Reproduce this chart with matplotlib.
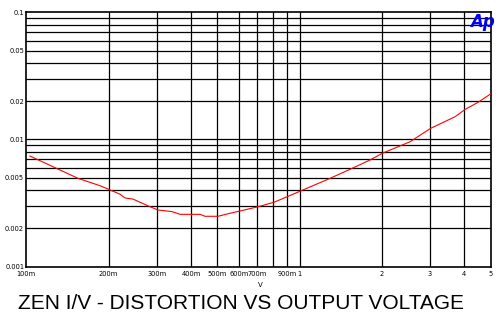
import matplotlib
matplotlib.use('Agg')
import matplotlib.pyplot as plt
import numpy as np

# output voltage (V) and THD+N ratio
volts = [0.1031, 0.1328, 0.1546, 0.1861, 0.2001, 0.2203, 0.2297, 0.2457, 0.2836,
         0.3033, 0.3413, 0.3650, 0.4321, 0.4507, 0.5028, 0.5563, 0.6049, 0.7045,
         0.806, 0.9224, 1.009, 1.292, 1.529, 1.810, 2.007, 2.535, 3.018, 3.704,
         4.04, 4.496, 4.995]
distortion = [0.00741, 0.00576, 0.00495, 0.00433, 0.00406, 0.00371, 0.00347, 0.00340,
              0.00296, 0.00279, 0.00271, 0.00258, 0.00258, 0.00249, 0.00249, 0.00263,
              0.00274, 0.00296, 0.00321, 0.00363, 0.00394, 0.00495, 0.00583, 0.0069,
              0.00779, 0.0096, 0.01225, 0.0151, 0.01728, 0.0196, 0.0228]

x_grid = [0.2, 0.3, 0.4, 0.5, 0.6, 0.7, 0.8, 0.9, 1, 2, 3, 4]
x_ticks = [0.1, 0.2, 0.3, 0.4, 0.5, 0.6, 0.7, 0.9, 1, 2, 3, 4, 5]
x_labels = ['100m', '200m', '300m', '400m', '500m', '600m', '700m', '900m',
            '1', '2', '3', '4', '5']
y_grid = [0.002, 0.003, 0.004, 0.005, 0.006, 0.007, 0.008, 0.009,
          0.01, 0.02, 0.03, 0.04, 0.05, 0.06, 0.07, 0.08, 0.09]
y_ticks = [0.001, 0.002, 0.005, 0.01, 0.02, 0.05, 0.1]
y_labels = ['0.001', '0.002', '0.005', '0.01', '0.02', '0.05', '0.1']

fig = plt.figure(figsize=(5.01, 3.21), dpi=100)
ax = fig.add_axes([0.0525, 0.1692, 0.9269, 0.7925])
ax.set_xscale('log')
ax.set_yscale('log')
ax.set_xlim(0.1, 5)
ax.set_ylim(0.001, 0.1)

for xv in x_grid:
    ax.axvline(xv, color='black', lw=0.9, zorder=1)
for yv in y_grid:
    ax.axhline(yv, color='black', lw=0.9, zorder=1)

ax.plot(volts, distortion, color='red', lw=0.8, zorder=3)

ax.minorticks_off()
ax.set_xticks(x_ticks)
ax.set_xticklabels(x_labels, fontsize=4.8, family='DejaVu Sans')
ax.set_yticks(y_ticks)
ax.set_yticklabels(y_labels, fontsize=4.8, family='DejaVu Sans')
ax.tick_params(axis='x', length=0, pad=3)
ax.tick_params(axis='y', length=0, pad=1.5)
for s in ax.spines.values():
    s.set_linewidth(1.2)
    s.set_color('black')

fig.text(0.519, 0.112, 'V', fontsize=5, ha='center', va='center')
fig.text(0.482, 0.055, 'ZEN I/V - DISTORTION VS OUTPUT VOLTAGE', fontsize=15,
         ha='center', va='center', family='Liberation Sans')
# Audio Precision logo
fig.text(0.962, 0.93, 'Ap', fontsize=12, color='#0000ff', ha='center', va='center',
         fontweight='heavy', fontstyle='italic', family='DejaVu Sans')

fig.savefig('out.png', dpi=100)
